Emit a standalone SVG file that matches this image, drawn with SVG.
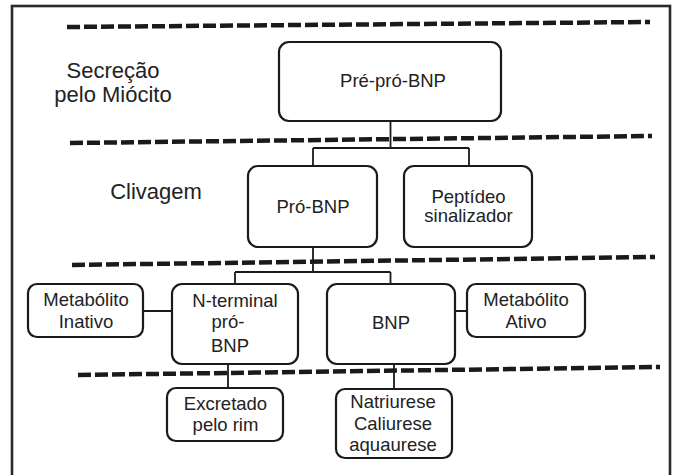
<svg xmlns="http://www.w3.org/2000/svg" width="676" height="475" viewBox="0 0 676 475">
<style>
.bg{fill:#ffffff}
.frame{fill:none;stroke:#2a2a2a;stroke-width:2.6}
.box{fill:#ffffff;stroke:#1a1a1a;stroke-width:2.2}
.dash{fill:none;stroke:#1a1a1a;stroke-width:4.5;stroke-dasharray:13 4}
.conn{fill:none;stroke:#1a1a1a;stroke-width:1.8}
text{font-family:"Liberation Sans",Arial,sans-serif;fill:#222222;text-anchor:middle}
.t{font-size:18.5px}
.lbl{font-size:22px}
</style>
<rect class="bg" x="0" y="0" width="676" height="475"/>
<rect class="frame" x="12" y="6" width="658" height="480"/>
<g id="separators">
<line class="dash" x1="67" y1="27" x2="650" y2="22"/>
<line class="dash" x1="70" y1="143" x2="652" y2="136"/>
<line class="dash" x1="72" y1="265" x2="655" y2="257"/>
<line class="dash" x1="78" y1="375" x2="660" y2="367"/>
</g>
<g id="connectors">
<path class="conn" d="M390.5 121 V148 M313 148 H469 M313 148 V166 M469 148 V166"/>
<path class="conn" d="M313 247 V272 M235 272 H390.5 M235 272 V284 M390.5 272 V284"/>
<path class="conn" d="M143 311 H172 M455 311 H467"/>
<path class="conn" d="M228 364 V388 M394 364 V389"/>
</g>
<g id="stage-labels">
<text class="lbl" x="113" y="78">Secreção</text>
<text class="lbl" x="113" y="102">pelo Miócito</text>
<text class="lbl" x="156" y="199">Clivagem</text>
</g>
<g id="pre-pro-bnp">
<rect class="box" x="279" y="42" width="222" height="79" rx="10"/>
<text class="t" x="393" y="87">Pré-pró-BNP</text>
</g>
<g id="pro-bnp">
<rect class="box" x="248" y="166" width="129" height="81" rx="10"/>
<text class="t" x="313" y="213">Pró-BNP</text>
</g>
<g id="peptideo">
<rect class="box" x="404" y="166" width="128" height="81" rx="10"/>
<text class="t" x="468.5" y="203">Peptídeo</text>
<text class="t" x="468.5" y="222">sinalizador</text>
</g>
<g id="metabolito-inativo">
<rect class="box" x="28" y="284" width="115" height="53" rx="9"/>
<text class="t" x="86" y="306">Metabólito</text>
<text class="t" x="86" y="328">Inativo</text>
</g>
<g id="nt-pro-bnp">
<rect class="box" x="172" y="284" width="126" height="80" rx="10"/>
<text class="t" x="235" y="307">N-terminal</text>
<text class="t" x="228" y="328">pró-</text>
<text class="t" x="230" y="352">BNP</text>
</g>
<g id="bnp">
<rect class="box" x="327" y="284" width="128" height="80" rx="10"/>
<text class="t" x="391" y="329">BNP</text>
</g>
<g id="metabolito-ativo">
<rect class="box" x="467" y="284" width="118" height="53" rx="9"/>
<text class="t" x="526" y="306">Metabólito</text>
<text class="t" x="526" y="328">Ativo</text>
</g>
<g id="excretado">
<rect class="box" x="167" y="388" width="116" height="53" rx="9"/>
<text class="t" x="225.5" y="410">Excretado</text>
<text class="t" x="225.5" y="431">pelo rim</text>
</g>
<g id="natriurese">
<rect class="box" x="336" y="389" width="116" height="69" rx="9"/>
<text class="t" x="393" y="408">Natriurese</text>
<text class="t" x="393" y="430">Caliurese</text>
<text class="t" x="393" y="451">aquaurese</text>
</g>
</svg>
